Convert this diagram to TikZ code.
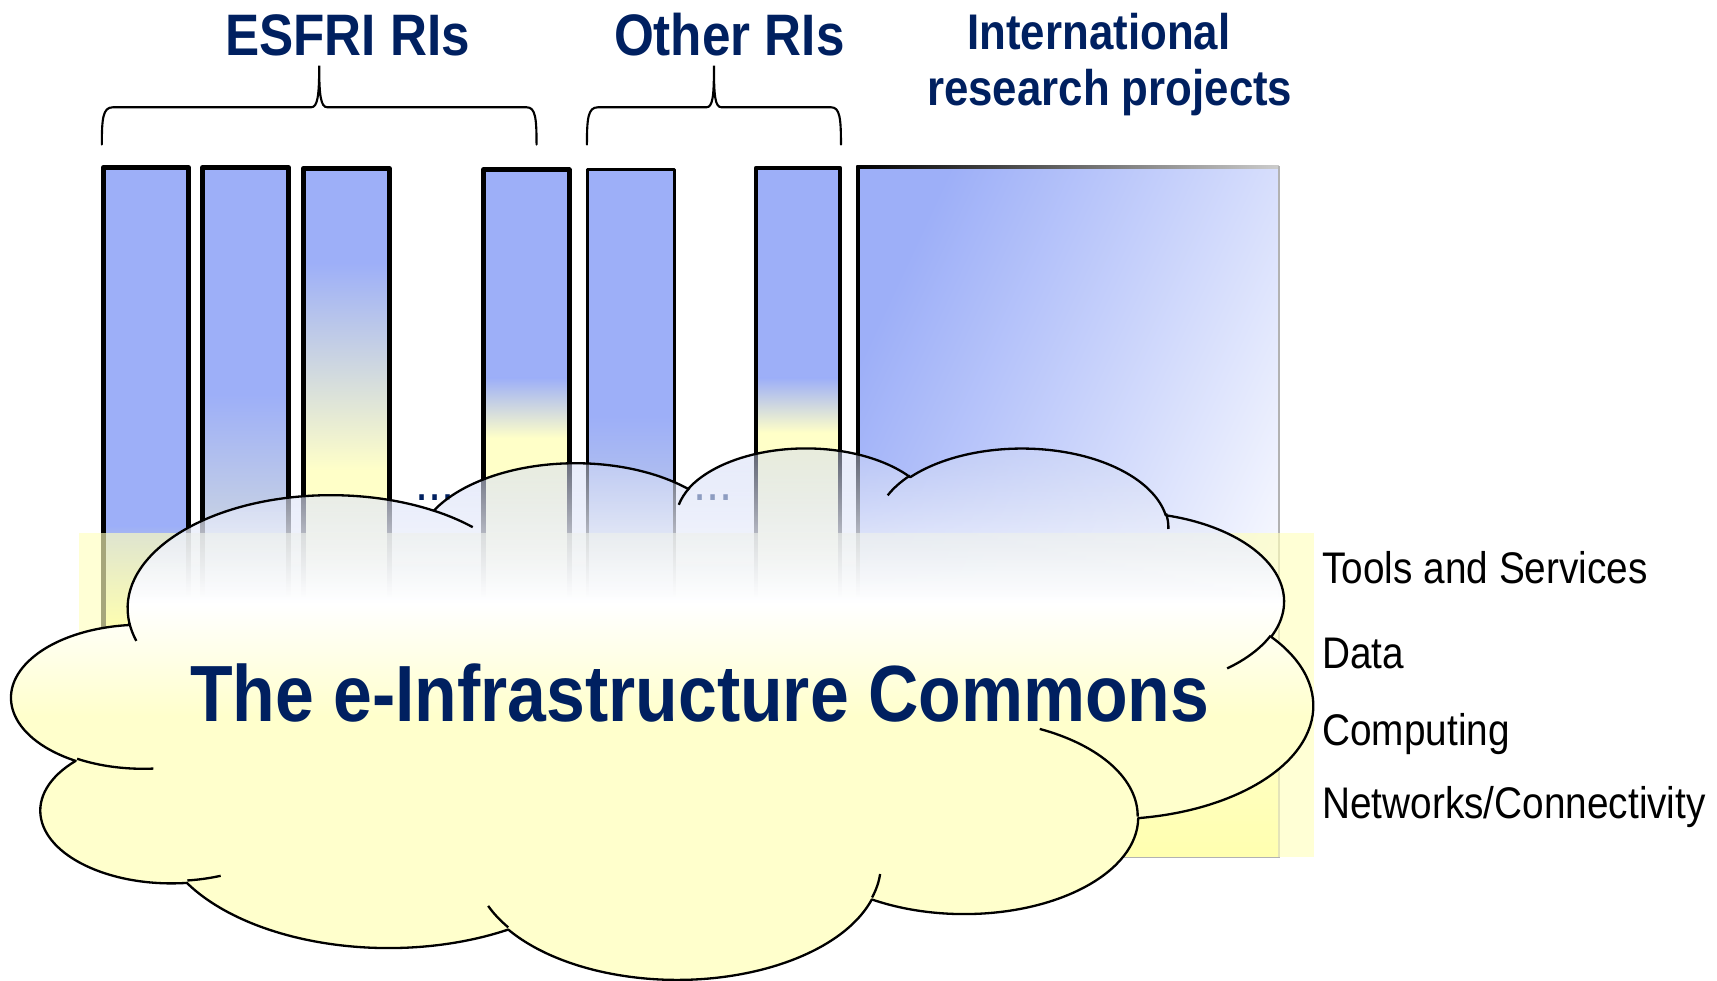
\documentclass[tikz,border=0pt]{standalone}
\usepackage{fontspec}
\setmainfont{Liberation Sans}
\newfontfamily\narrowfont[FakeStretch=0.875]{Liberation Sans}
\usetikzlibrary{fadings}

\definecolor{riblue}{RGB}{157,175,248}
\definecolor{riyellow}{RGB}{255,255,200}
\definecolor{deepyellow}{RGB}{255,255,150}
\definecolor{bandyellow}{RGB}{255,255,190}
\definecolor{cloudyellow}{RGB}{255,255,204}
\definecolor{cloudblue}{RGB}{204,213,244}
\definecolor{navy}{RGB}{0,32,96}

\pgfdeclareverticalshading{cloudshading}{100bp}{color(0bp)=(cloudyellow); color(50bp)=(cloudyellow); color(60bp)=(white); color(75bp)=(cloudblue); color(100bp)=(cloudblue)}

% the top of the cloud lets the pillars show through
\begin{tikzfadingfrompicture}[name=cloudfade]
  \fill[transparent!0] (-6.5cm,-2.6cm) rectangle (6.5cm,2.6cm);
  \shade[top color=transparent!55, bottom color=transparent!0] (-6.5cm,1.05cm) rectangle (6.5cm,2.45cm);
  \fill[transparent!55] (-6.5cm,2.45cm) rectangle (6.5cm,2.6cm);
\end{tikzfadingfrompicture}

\tikzset{
  head/.style={font=\narrowfont\bfseries\fontsize{15.2}{18}\selectfont, text=navy, inner sep=0pt, anchor=base},
  subhead/.style={head, font=\narrowfont\bfseries\fontsize{13}{16}\selectfont},
  layer/.style={font=\narrowfont\fontsize{11.5}{14}\selectfont, inner sep=0pt, anchor=base west},
  brace/.style={line width=0.55pt, line cap=round},
  cloud arc/.style n args={4}{insert path={
    arc[start angle={atan2(#1*sin(#3),#2*cos(#3))},
        delta angle={mod(atan2(#1*sin(#3+#4),#2*cos(#3+#4))-atan2(#1*sin(#3),#2*cos(#3))+720,360)},
        x radius={#1*0.0275}, y radius={#2*0.011227}]}},
  cloud outline/.style={insert path={(118.25,569.33)
    [cloud arc={6753}{9190}{-190.4875}{123.7805}]
    [cloud arc={5333}{7267}{-144.1024}{89.9452}]
    [cloud arc={4365}{5945}{-145.8079}{99.7230}]
    [cloud arc={4857}{6595}{-130.9861}{117.2417}]
    [cloud arc={5333}{7273}{-78.7089}{109.0269}]
    [cloud arc={6775}{9220}{-46.2673}{130.2690}]
    [cloud arc={5785}{7867}{0.6250}{114.0333}]
    [cloud arc={6752}{9215}{22.4516}{115.1726}]
    [cloud arc={7720}{10543}{66.2426}{75.7110}]
    [cloud arc={4360}{5918}{-274.9421}{146.7356}]
    [cloud arc={4345}{5945}{-246.8285}{152.5189}] -- cycle}},
  cloud tails/.style={insert path={
    (140.06,701.89) [cloud arc={4345}{5945}{86.7420}{26.4295}]
    (201.52,799.81) [cloud arc={4360}{5918}{73.6105}{11.4475}]
    (464.15,846.86) [cloud arc={6752}{9215}{137.6242}{14.0811}]
    (803.74,798.15) [cloud arc={6752}{9215}{6.4533}{15.9984}]
    (949.55,665.70) [cloud arc={5785}{7867}{-70.2924}{70.9174}]
    (1160.45,580.38) [cloud arc={5333}{7273}{30.3180}{27.7515}]
    (1064.91,468.92) [cloud arc={4857}{6595}{-13.7443}{14.8589}]
    (810.65,452.37) [cloud arc={4857}{6595}{-149.1815}{18.1954}]
    (619.88,460.99) [cloud arc={4365}{5945}{-163.4943}{17.6864}]
    (396,466.29) [cloud arc={6753}{9190}{-66.7070}{12.3194}]
    (124.49,585.26) [cloud arc={6753}{9190}{157.6544}{11.8582}]}}
}

\begin{document}
\begin{tikzpicture}[x=0.01cm,y=-0.01cm]
\useasboundingbox (0,0) rectangle (1568,895);

% international research projects box
\shade[top color=riblue, middle color=riblue!35!white, bottom color=white, shading angle=65] (783.5,153) rectangle (1168,783);
\shade[top color=white, bottom color=deepyellow] (783.5,600) rectangle (1168,783);
\shade[left color=black, right color=black!20] (782,151) rectangle (1168,154);
\draw[black!30, line width=0.4pt] (1168,152) -- (1168,783) -- (783.5,783);
\draw[line width=1pt] (783.5,153) -- (783.5,783);

% RI pillars
\foreach \xl/\xr/\yt/\ya/\yb/\barcol/\lw in {94.3/172.1/153/480/575/deepyellow/1.3, 184.9/263.2/153/360/640/riyellow/1.3, 276.9/355.4/153.9/240/430/riyellow/1.3, 441.6/519.7/155.1/345/400/riyellow/1.3, 536.8/615.8/155.1/380/700/riyellow/0.8, 690.2/767.4/153.4/345/395/riyellow/1.0}{
  \fill[riblue] (\xl,\yt) rectangle (\xr,\ya);
  \shade[top color=riblue, bottom color=\barcol] (\xl,\ya) rectangle (\xr,\yb);
  \fill[\barcol] (\xl,\yb) rectangle (\xr,720);
  \draw[line width=\lw pt, line join=round] (\xl,720) |- (\xr,\yt) -- (\xr,720);
}

% layers band
\fill[bandyellow, opacity=0.65] (72,487) rectangle (1200,783);

\node[layer, anchor=base, text=navy, font=\narrowfont\fontsize{14}{16}\selectfont] (esfri dots) at (397,457) {...};
\node[layer, anchor=base, text=navy, font=\narrowfont\fontsize{14}{16}\selectfont] (other dots) at (651,457) {...};

% the cloud
\shade[shading=cloudshading, path fading=cloudfade, fit fading=false, fading transform={shift={(605,650.5)}}, cloud outline];
\draw[line width=0.6pt, line join=round, cloud outline];
\draw[line width=0.6pt, cloud tails];

\node[head, font=\narrowfont\bfseries\fontsize{20.7}{25}\selectfont] (commons) at (639,658.5) {The e-Infrastructure Commons};

% headings and braces
\node[head] (esfri) at (317.5,51) {ESFRI RIs};
\node[head] (other) at (666,51) {Other RIs};
\node[subhead] (intl top) at (1003.5,45) {International};
\node[subhead] (intl bottom) at (1013.5,96) {research projects};

\draw[brace] (93,132) .. controls (93,108) and (94,98) .. (103,98) -- (284,98) .. controls (290,98) and (291.5,88) .. (291.5,60) .. controls (291.5,88) and (293,98) .. (299,98) -- (481,98) .. controls (489,98) and (490,108) .. (490,132);
\draw[brace] (536,132) .. controls (536,108) and (537,98) .. (546,98) -- (645,98) .. controls (651,98) and (652,88) .. (652,60) .. controls (652,88) and (653,98) .. (659,98) -- (759,98) .. controls (767,98) and (768,108) .. (768,132);

% layers
\node[layer] (tools) at (1207,532.7) {Tools and Services};
\node[layer] (data) at (1207,610.3) {Data};
\node[layer] (computing) at (1207,680.4) {Computing};
\node[layer] (networks) at (1207,747.3) {Networks/Connectivity};
\end{tikzpicture}
\end{document}
